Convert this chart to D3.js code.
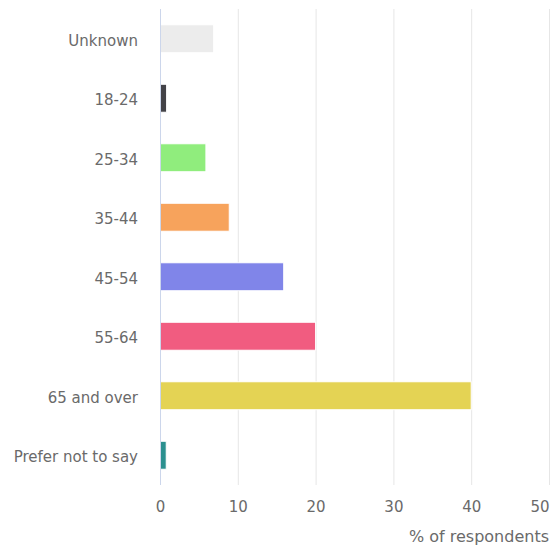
<!DOCTYPE html>
<html><head><meta charset="utf-8">
<script src="https://cdn.jsdelivr.net/npm/d3@7"></script>
<style>body{margin:0;background:#fff;}svg{display:block;}text{font-family:"DejaVu Sans",Verdana,sans-serif;}</style>
</head><body>
<svg id="c" width="553" height="550"></svg>
<script>
const categories = ["Unknown","18-24","25-34","35-44","45-54","55-64","65 and over","Prefer not to say"];
const values = [6.9, 0.85, 5.9, 8.9, 15.9, 20, 40, 0.8];
const colors = ["#ececec","#434348","#90ed7d","#f7a35c","#8085e9","#f15c80","#e4d354","#2b908f"];
const xTicks = [0,10,20,30,40,50];
const axisTitle = "% of respondents";

const svg = d3.select("#c");
const m = {left:160, right:549, top:9, bottom:485};
const x = d3.scaleLinear().domain([0,50]).range([m.left, m.right]);
const y = d3.scaleBand().domain(categories).range([m.top, m.bottom]).paddingInner(0.53).paddingOuter(0.265);
const fs = "15px";
const txt = "#6a6a6a";

// gridlines
svg.append("g").selectAll("line").data(xTicks.slice(1)).join("line")
  .attr("x1", d=>x(d)+0.5).attr("x2", d=>x(d)+0.5)
  .attr("y1", m.top).attr("y2", m.bottom)
  .attr("stroke","#e6e6e6").attr("stroke-width",1);

// bars
svg.append("g").selectAll("rect").data(categories).join("rect")
  .attr("x", x(0)).attr("y", d=>y(d))
  .attr("width", (d,i)=>x(values[i])-x(0))
  .attr("height", y.bandwidth())
  .attr("fill", (d,i)=>colors[i])
  .attr("stroke","#fff").attr("stroke-width",1);

// left axis line
svg.append("line").attr("x1", m.left+0.5).attr("x2", m.left+0.5)
  .attr("y1", m.top).attr("y2", m.bottom).attr("stroke","#ccd6eb");

// category labels
const yAxis = d3.axisLeft(y).tickSize(0).tickPadding(22);
const gy = svg.append("g").attr("transform",`translate(${m.left},2)`).call(yAxis);
gy.select(".domain").remove();
gy.attr("font-family",null).attr("font-size",null);
gy.selectAll("text").attr("fill",txt).style("font-size",fs);

// x axis labels
const xAxis = d3.axisBottom(x).tickValues(xTicks).tickSize(0).tickPadding(16);
const gx = svg.append("g").attr("transform",`translate(0,${m.bottom})`).call(xAxis);
gx.select(".domain").remove();
gx.attr("font-family",null).attr("font-size",null);
gx.selectAll("text").attr("fill",txt).style("font-size",fs)
  .attr("text-anchor", d => d === xTicks[xTicks.length-1] ? "end" : "middle");

svg.append("text").attr("x", m.right).attr("y", 542).attr("text-anchor","end")
  .attr("fill",txt).style("font-size","16px").text(axisTitle);
</script>
</body></html>
